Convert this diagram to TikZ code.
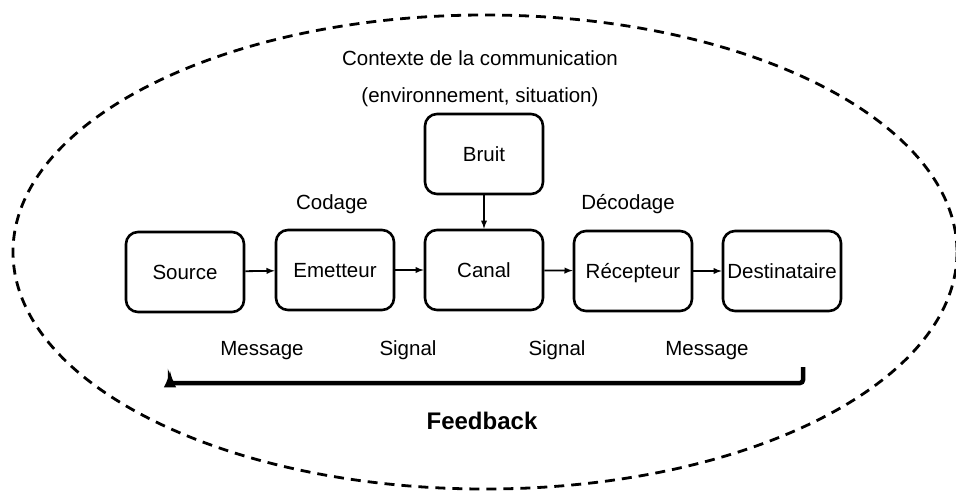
\documentclass[tikz,border=0pt]{standalone}
\usepackage{fontspec}
\setmainfont{Liberation Sans}
\usepackage{tikz}
\usetikzlibrary{arrows}

\tikzset{
  bloc/.style={draw, rectangle, rounded corners=12pt, line width=2.6pt,
    minimum width=118pt, minimum height=80pt, inner sep=0pt,
    text height=15pt, text depth=0pt},
  etiq/.style={inner sep=0pt, text height=15pt, text depth=0pt}
}

\begin{document}
\begin{tikzpicture}[x=1pt, y=-1pt, font=\fontsize{20.5}{24}\selectfont]
\useasboundingbox (0,0) rectangle (956,493);

% contexte
\draw[dashed, line width=2.8pt, dash pattern=on 10pt off 7pt] (485,252) ellipse [x radius=472, y radius=237];
\node[etiq] at (480,58) (ctx) {Contexte de la communication};
\node[etiq] at (480,95) (env) {(environnement, situation)};

\node[bloc] at (185,272) (src) {Source};
\node[bloc] at (335,270) (em) {Emetteur};
\node[bloc] at (484,270) (can) {Canal};
\node[bloc] at (633,271) (rec) {R\'ecepteur};
\node[bloc] at (782,271) (dst) {Destinataire};
\node[bloc] at (484,154) (br) {Bruit};

\node[etiq] at (332,202) (cod) {Codage};
\node[etiq] at (628,202) (dec) {D\'ecodage};

\node[etiq] at (262,348) (m1) {Message};
\node[etiq] at (408,348) (s1) {Signal};
\node[etiq] at (557,348) (s2) {Signal};
\node[etiq] at (707,348) (m2) {Message};

\path[->, >=latex, line width=1.8pt] (src) edge (em);
\path[->, >=latex, line width=1.8pt] (em) edge (can);
\path[->, >=latex, line width=1.8pt] (can) edge (rec);
\path[->, >=latex, line width=1.8pt] (rec) edge (dst);
\path[->, >=latex, line width=1.8pt] (br) edge (can);

% retour
\coordinate (fbR) at (803,367);
\coordinate (fbL) at (170,371);
\draw[->, >=latex, line width=4.5pt, rounded corners=3pt] (fbR) -- ++(0,16) -| (fbL);
\node[etiq, font=\fontsize{24}{28}\selectfont\bfseries] at (482,422) (fb) {Feedback};

\end{tikzpicture}
\end{document}
